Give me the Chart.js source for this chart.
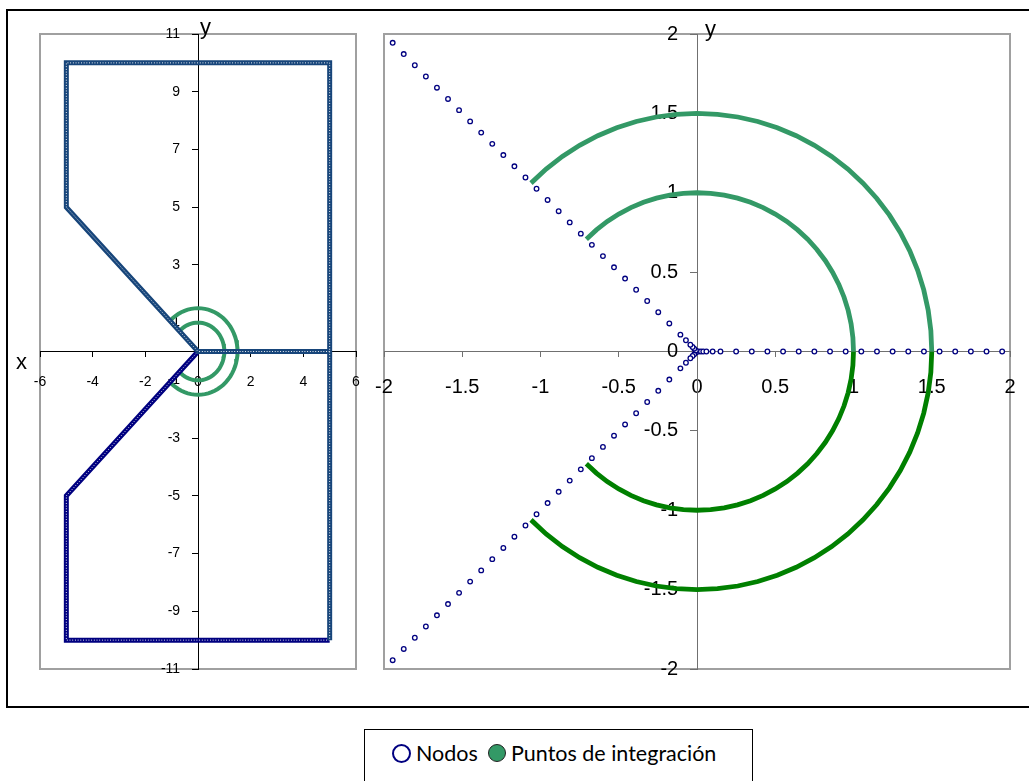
<!DOCTYPE html>
<html>
<head>
<meta charset="utf-8">
<script src="https://cdn.jsdelivr.net/npm/chart.js@4.4.1/dist/chart.umd.min.js"></script>
<style>
  body { margin: 0; width: 1029px; height: 781px; overflow: hidden; background: #fff; position: relative; }
  .frame { position: absolute; left: 6px; top: 9px; width: 1040px; height: 699px; box-sizing: border-box; border: 2px solid #000; }
  .panel { position: absolute; top: 0; }
  .axis-title { position: absolute; font-family: 'Liberation Sans', Arial, sans-serif; font-size: 22px; line-height: 22px; color: #000; }
  .legend { position: absolute; left: 364px; top: 729px; width: 389px; height: 70px; box-sizing: border-box; border: 1.5px solid #000;
            font-family: Lato, 'Noto Sans', sans-serif; font-size: 21.5px; color: #000; }
  .legend .item { position: absolute; top: 11px; display: flex; align-items: center; height: 24px; }
  .legend .dot { width: 15px; height: 15px; border-radius: 50%; margin-right: 5px; }
</style>
</head>
<body>
<div class="frame"></div>
<div class="panel" style="left:0; width:377px; height:700px;"><canvas id="leftChart" width="377" height="700"></canvas></div>
<div class="panel" style="left:356px; width:679px; height:700px;"><canvas id="rightChart" width="679" height="700"></canvas></div>
<div class="axis-title" style="left:16px; top:351px;">x</div>
<div class="axis-title" style="left:200px; top:16px;">y</div>
<div class="axis-title" style="left:705px; top:18px;">y</div>
<div class="legend">
  <div class="item" style="left:27px;"><span class="dot" style="border:2.5px solid #000080; background:#fff;"></span>Nodos</div>
  <div class="item" style="left:123px;"><span class="dot" style="border:1.5px solid #222; width:16px; height:16px; background:#339966;"></span>Puntos de integración</div>
</div>

<script>
// --- DATA ---
// contorno del dominio (vertices), panel izquierdo
const upperEdgeX = [5, 0, -5, -5, 5, 5];
const upperEdgeY = [0, 0, 5, 10, 10, -10];
const lowerEdgeX = [5, -5, -5, 0];
const lowerEdgeY = [-10, -10, -5, 0];

// nodos cerca del vertice: distancia al origen a lo largo de cada rayo
const nodeDist = [0.01, 0.025, 0.04, 0.06, 0.1, 0.15, 0.25, 0.35, 0.45, 0.55, 0.65, 0.75, 0.85, 0.95,
                  1.05, 1.15, 1.25, 1.35, 1.45, 1.55, 1.65, 1.75, 1.85, 1.95, 2.05, 2.15, 2.25, 2.35,
                  2.45, 2.55, 2.65, 2.75];
const rayAngles = [135, -135, 0];

// puntos de integracion: arcos de radio 1 y 1.5
const arcRadii = [1, 1.5];
const arcAnglesUpper = [135, 130, 125, 120, 115, 110, 105, 100, 95, 90, 85, 80, 75, 70, 65, 60, 55, 50,
                        45, 40, 35, 30, 25, 20, 15, 10, 5, 0];
const arcAnglesLower = [0, -5, -10, -15, -20, -25, -30, -35, -40, -45, -50, -55, -60, -65, -70, -75, -80,
                        -85, -90, -95, -100, -105, -110, -115, -120, -125, -130, -135];

// ejes
const leftX = { min: -6, max: 6, step: 2 };
const leftY = { min: -11, max: 11, step: 2 };
const rightX = { min: -2, max: 2, step: 0.5 };
const rightY = { min: -2, max: 2, step: 0.5 };

// --- helpers ---
const toPts = (xs, ys) => xs.map((x, i) => ({ x: x, y: ys[i] }));
const polar = (r, deg) => ({ x: r * Math.cos(deg * Math.PI / 180), y: r * Math.sin(deg * Math.PI / 180) });
const arcPts = (r, angles) => angles.map(a => polar(r, a));
const fmt = v => String(Math.round(v * 100) / 100);

const SEA = '#339966';
const DARK_GREEN = '#008000';
const NAVY = '#000080';
const FONT = "'Liberation Sans', Arial, sans-serif";

// marco gris del area de trazado (debajo de ejes y etiquetas)
const frameBorder = {
    id: 'frameBorder',
    beforeDraw(chart) {
        const a = chart.chartArea;
        const ctx = chart.ctx;
        ctx.save();
        ctx.strokeStyle = '#a0a0a0';
        ctx.lineWidth = 2;
        ctx.strokeRect(a.left, a.top, a.right - a.left, a.bottom - a.top);
        ctx.restore();
    }
};

function axis(range, pos, opts) {
    return {
        type: 'linear',
        axis: opts.axis,
        min: range.min,
        max: range.max,
        position: pos,
        ticks: {
            stepSize: range.step,
            autoSkip: false,
            maxRotation: 0,
            display: opts.labels !== false,
            color: '#000',
            padding: opts.padding || 0,
            callback: fmt,
            font: { family: FONT, size: opts.size }
        },
        grid: { display: opts.line !== false, drawOnChartArea: false, drawTicks: opts.line !== false, tickLength: opts.tick || 0, tickColor: opts.color },
        border: { display: opts.line !== false, color: opts.color, width: 1 }
    };
}

// eje y: linea + marcas en x=0, etiquetas desplazadas a la izquierda en una escala gemela
function yScales(range, labelAt, opts) {
    return {
        y: axis(range, { x: 0 }, { axis: 'y', size: opts.size, tick: opts.tick, color: opts.color, labels: false }),
        yLab: axis(range, { x: labelAt }, { axis: 'y', size: opts.size, line: false, color: opts.color })
    };
}

function chainLine(pts, color, order) {
    return [
        { data: pts, showLine: true, borderColor: color, borderWidth: 5, pointRadius: 0, order: order + 1 },
        { data: pts, showLine: true, borderColor: '#ffffff', borderWidth: 1, borderDash: [0.9, 1.8], pointRadius: 0, order: order }
    ];
}

function arcLine(pts, color, width) {
    return { data: pts, showLine: true, borderColor: color, borderWidth: width, pointRadius: 0, order: 10 };
}

// --- panel izquierdo ---
new Chart(document.getElementById('leftChart'), {
    type: 'scatter',
    data: {
        datasets: [
            ...chainLine(toPts(upperEdgeX, upperEdgeY), '#17457a', 1),
            ...chainLine(toPts(lowerEdgeX, lowerEdgeY), NAVY, 3),
            ...arcRadii.map(r => arcLine(arcPts(r, arcAnglesUpper.concat(arcAnglesLower)), SEA, 4))
        ]
    },
    options: {
        responsive: false,
        animation: false,
        layout: { autoPadding: false, padding: { left: 40, top: 34, right: 21, bottom: 31 } },
        plugins: { legend: { display: false }, tooltip: { enabled: false } },
        scales: {
            x: axis(leftX, { y: 0 }, { axis: 'x', size: 14, padding: 17, tick: 5, color: '#000' }),
            ...yScales(leftY, -0.68, { size: 14, tick: 6, color: '#000' })
        }
    },
    plugins: [frameBorder]
});

// --- panel derecho ---
const rayData = rayAngles.map(a => nodeDist.map(r => polar(r, a)));

new Chart(document.getElementById('rightChart'), {
    type: 'scatter',
    data: {
        datasets: [
            ...rayData.map(pts => ({
                data: pts,
                pointRadius: 2.3,
                pointBorderWidth: 1.3,
                pointBorderColor: NAVY,
                pointBackgroundColor: '#ffffff',
                order: 1
            })),
            ...arcRadii.map(r => arcLine(arcPts(r, arcAnglesUpper), SEA, 4.8)),
            ...arcRadii.map(r => arcLine(arcPts(r, arcAnglesLower), DARK_GREEN, 4.8))
        ]
    },
    options: {
        responsive: false,
        animation: false,
        layout: { autoPadding: false, padding: { left: 28, top: 34, right: 25, bottom: 31 } },
        plugins: { legend: { display: false }, tooltip: { enabled: false } },
        scales: {
            x: axis(rightX, { y: 0 }, { axis: 'x', size: 20, padding: 19, tick: 5, color: '#707070' }),
            ...yScales(rightY, -0.12, { size: 20, tick: 7, color: '#707070' })
        }
    },
    plugins: [frameBorder]
});
</script>
</body>
</html>
